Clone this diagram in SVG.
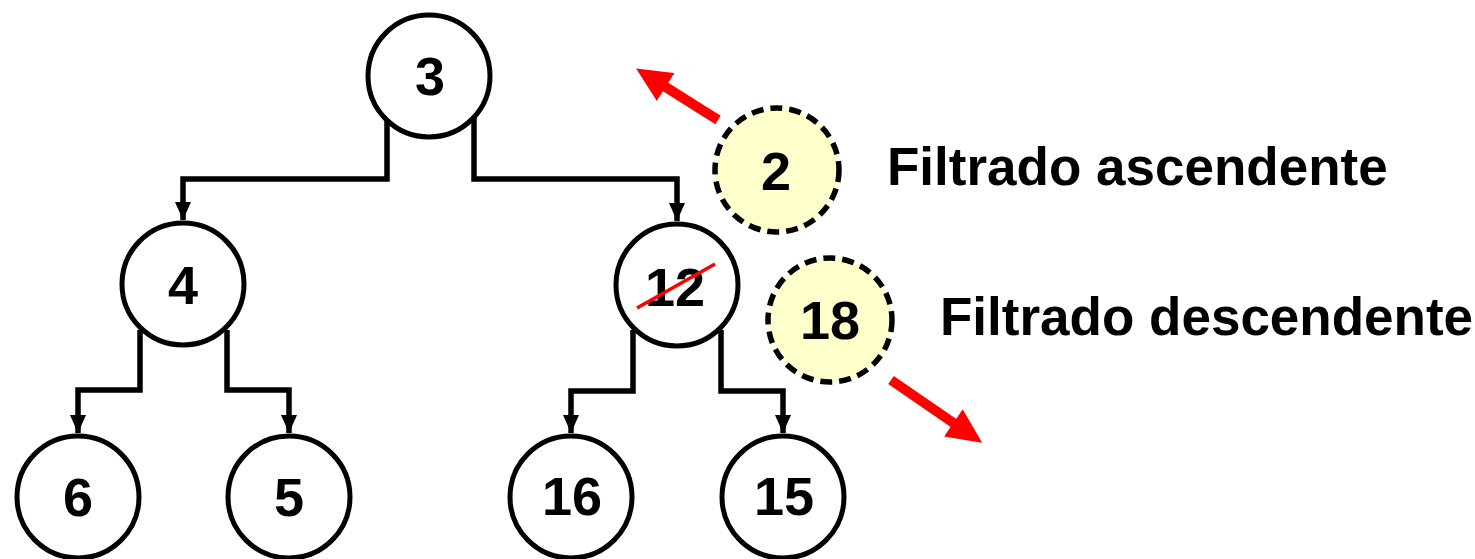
<svg xmlns="http://www.w3.org/2000/svg" width="1475" height="559" viewBox="0 0 1475 559">
<style>
.edge{fill:none;stroke:#000;stroke-width:5.5;stroke-linejoin:miter}
.node{fill:#fff;stroke:#000;stroke-width:5}
.dash{fill:#ffffcc;stroke:#000;stroke-width:5.5;stroke-dasharray:12 7}
.num{font-family:"Liberation Sans",Arial,sans-serif;font-weight:bold;font-size:54px;text-anchor:middle;fill:#000}
.lbl{font-family:"Liberation Sans",Arial,sans-serif;font-weight:bold;font-size:53px;fill:#000}
.red{stroke:#ff0000;stroke-width:10;fill:none}
</style>
<defs>
<marker id="ah" viewBox="0 0 18 16" refX="18" refY="8" markerWidth="18" markerHeight="16" markerUnits="userSpaceOnUse" orient="auto">
<path d="M0,0 L18,8 L0,16 z" fill="#000"/>
</marker>
<marker id="rh" viewBox="0 0 35 33" refX="2" refY="16.5" markerWidth="35" markerHeight="33" markerUnits="userSpaceOnUse" orient="auto">
<path d="M0,0 L35,16.5 L0,33 z" fill="#ff0000"/>
</marker>
</defs>
<g id="connectors">
<path class="edge" d="M387,118 V179 H183 V220" marker-end="url(#ah)"/>
<path class="edge" d="M474,118 V179 H677 V221" marker-end="url(#ah)"/>
<path class="edge" d="M140,330 V390 H78 V433" marker-end="url(#ah)"/>
<path class="edge" d="M227,330 V390 H289 V433" marker-end="url(#ah)"/>
<path class="edge" d="M633,330 V391 H571 V433" marker-end="url(#ah)"/>
<path class="edge" d="M721,330 V391 H783 V433" marker-end="url(#ah)"/>
</g>
<g id="n3"><circle class="node" cx="429" cy="76" r="61"/><text class="num" x="430" y="95">3</text></g>
<g id="n4"><circle class="node" cx="183" cy="284" r="61"/><text class="num" x="183" y="304">4</text></g>
<g id="n12"><circle class="node" cx="677" cy="285" r="61"/><text class="num" x="675" y="306">12</text>
<line x1="637" y1="308" x2="715" y2="264" stroke="#ff0000" stroke-width="3.5"/></g>
<g id="n6"><circle class="node" cx="78" cy="497" r="61"/><text class="num" x="78" y="516">6</text></g>
<g id="n5"><circle class="node" cx="289" cy="497" r="61"/><text class="num" x="289" y="516">5</text></g>
<g id="n16"><circle class="node" cx="571" cy="497" r="61"/><text class="num" x="572" y="515">16</text></g>
<g id="n15"><circle class="node" cx="783" cy="497" r="61"/><text class="num" x="784" y="515">15</text></g>
<g id="n2"><circle class="dash" cx="777" cy="170" r="62"/><text class="num" x="776" y="190">2</text></g>
<g id="n18"><circle class="dash" cx="830" cy="320" r="62"/><text class="num" x="830" y="339">18</text></g>
<g id="arrows">
<line class="red" x1="718" y1="120" x2="664" y2="86" marker-end="url(#rh)"/>
<line class="red" x1="891" y1="380" x2="955" y2="424" marker-end="url(#rh)"/>
</g>
<g id="labels">
<text class="lbl" x="887" y="185">Filtrado ascendente</text>
<text class="lbl" x="940" y="335">Filtrado descendente</text>
</g>
</svg>
